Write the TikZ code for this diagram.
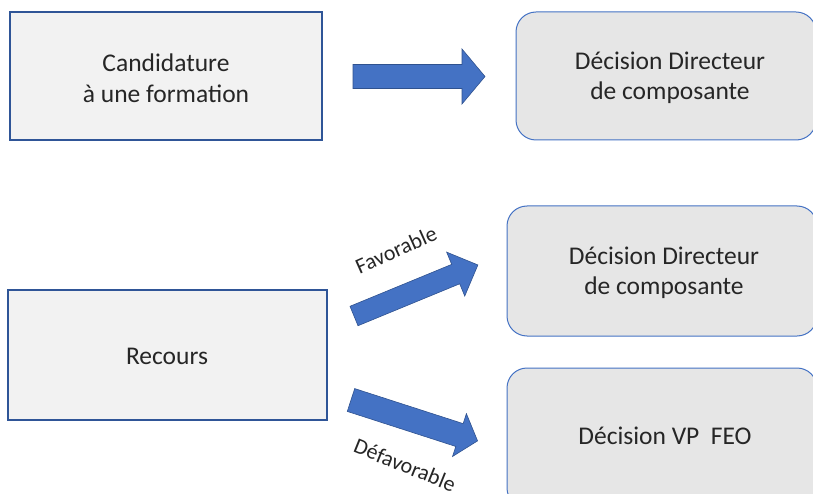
\documentclass[tikz,border=0pt]{standalone}
\usepackage{fontspec}
\setmainfont{Carlito}
\definecolor{boxfill}{HTML}{F2F2F2}
\definecolor{boxline}{HTML}{2F5597}
\definecolor{rfill}{HTML}{E6E6E6}
\definecolor{rline}{HTML}{4472C4}
\definecolor{arrfill}{HTML}{4472C4}
\definecolor{arrline}{HTML}{2F528F}
\definecolor{txt}{HTML}{262626}
% #1 shaft width, #2 head width, #3 head length, #4 total length
\newcommand\myblockarrow[4]{%
  (0,-#1/2) -- (#4-#3,-#1/2) -- (#4-#3,-#2/2) -- (#4,0) -- (#4-#3,#2/2) -- (#4-#3,#1/2) -- (0,#1/2) -- cycle}
\begin{document}
\begin{tikzpicture}[x=1pt,y=-1pt,
  sqbox/.style={draw=boxline,line width=1.2pt,fill=boxfill},
  rbox/.style={draw=rline,line width=1pt,fill=rfill,rounded corners=20pt},
  boxtext/.style={text=txt,font=\fontsize{25.5}{30.5}\selectfont,align=center,inner sep=0pt},
  blockarrow/.style={draw=arrline,line width=0.6pt,fill=arrfill,line join=miter},
  lbl/.style={text=txt,font=\fontsize{22}{24}\selectfont,inner sep=0pt}]
\useasboundingbox (0,0) rectangle (813,494);
\clip (0,0) rectangle (813,494);
% boxes
\node[sqbox,minimum width=312pt,minimum height=128pt] (cand) at (166,76) {};
\node[boxtext] (candt) at (166,78) {Candidature\\à une formation};
\node[rbox,minimum width=300pt,minimum height=128pt] (dec1) at (666,76) {};
\node[boxtext] (dec1t) at (670,78) {Décision Directeur\\de composante};
\node[sqbox,minimum width=319pt,minimum height=130pt] (rec) at (167.5,355) {};
\node[boxtext] (rect) at (167,356) {Recours};
\node[rbox,minimum width=310pt,minimum height=130pt] (dec2) at (662,271) {};
\node[boxtext] (dec2t) at (664,273) {Décision Directeur\\de composante};
\node[rbox,minimum width=310pt,minimum height=140pt] (vp) at (662,438) {};
\node[boxtext] (vpt) at (665,436) {Décision VP\ \ FEO};
% block arrows
\begin{scope}[shift={(353,76.5)}]
  \draw[blockarrow] \myblockarrow{24}{55}{23}{132};
\end{scope}
\begin{scope}[shift={(354,316)},rotate=22.4]
  \draw[blockarrow] \myblockarrow{21}{47.5}{24}{134};
\end{scope}
\begin{scope}[shift={(351,400)},rotate=-17.9]
  \draw[blockarrow] \myblockarrow{24}{45}{19}{133};
\end{scope}
% labels
\node[lbl,rotate=24] (fav) at (396,250) {Favorable};
\node[lbl,rotate=-22] (dfav) at (405,465) {Défavorable};
\end{tikzpicture}
\end{document}
